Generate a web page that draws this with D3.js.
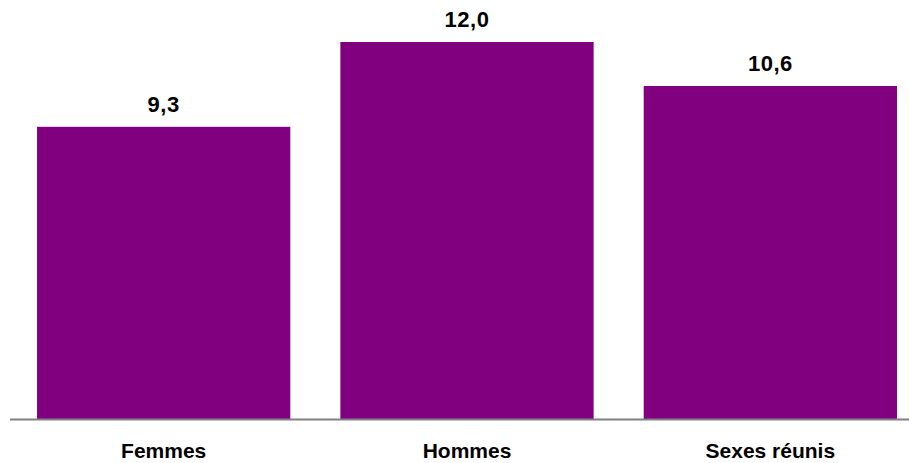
<!DOCTYPE html>
<html>
<head>
<meta charset="utf-8">
<script src="https://cdn.jsdelivr.net/npm/d3@7"></script>
<style>
  body { margin: 0; background: #fff; }
  text { font-family: "Liberation Sans", Arial, sans-serif; font-weight: bold; fill: #000; }
</style>
</head>
<body>
<div id="chart"></div>
<script>
// donnees du graphique
const categories = ["Femmes", "Hommes", "Sexes réunis"];
const values = [9.3, 12.0, 10.6];

const width = 909, height = 463;
const baseY = 419;

const svg = d3.select('#chart').append('svg')
  .attr('width', width)
  .attr('height', height);

// echelles
const x = d3.scaleBand()
  .domain(categories)
  .range([12, 922])
  .paddingInner(0.165)
  .paddingOuter(0.0825);

const y = d3.scaleLinear()
  .domain([0, 12])
  .range([baseY, 42]);

const data = categories.map((c, i) => ({ cat: c, val: values[i] }));

// barres
svg.selectAll('.bar')
  .data(data)
  .enter().append('rect')
  .attr('class', 'bar')
  .attr('x', d => x(d.cat))
  .attr('width', x.bandwidth())
  .attr('y', d => y(d.val))
  .attr('height', d => baseY - y(d.val))
  .attr('fill', '#800080');

// axe horizontal
const xAxis = d3.axisBottom(x).tickSize(0).tickPadding(0);
const axisG = svg.append('g')
  .attr('transform', `translate(0,${baseY})`)
  .call(xAxis);
axisG.select('.domain').remove();
axisG.selectAll('.tick text')
  .attr('y', 39)
  .attr('dy', null)
  .style('font-size', '21px')
  .style('font-family', '"Liberation Sans", Arial, sans-serif')
  .style('font-weight', 'bold')
  .attr('fill', '#000');

svg.append('line')
  .attr('x1', 10).attr('x2', width)
  .attr('y1', baseY + 0.5).attr('y2', baseY + 0.5)
  .attr('stroke', '#808080')
  .attr('stroke-width', 2);

// etiquettes de valeurs
svg.selectAll('.val')
  .data(data)
  .enter().append('text')
  .attr('class', 'val')
  .attr('x', d => x(d.cat) + x.bandwidth() / 2)
  .attr('y', d => y(d.val) - 15)
  .attr('text-anchor', 'middle')
  .style('font-size', '22px')
  .style('letter-spacing', '0.5px')
  .text(d => d3.format('.1f')(d.val).replace('.', ','));
</script>
</body>
</html>
